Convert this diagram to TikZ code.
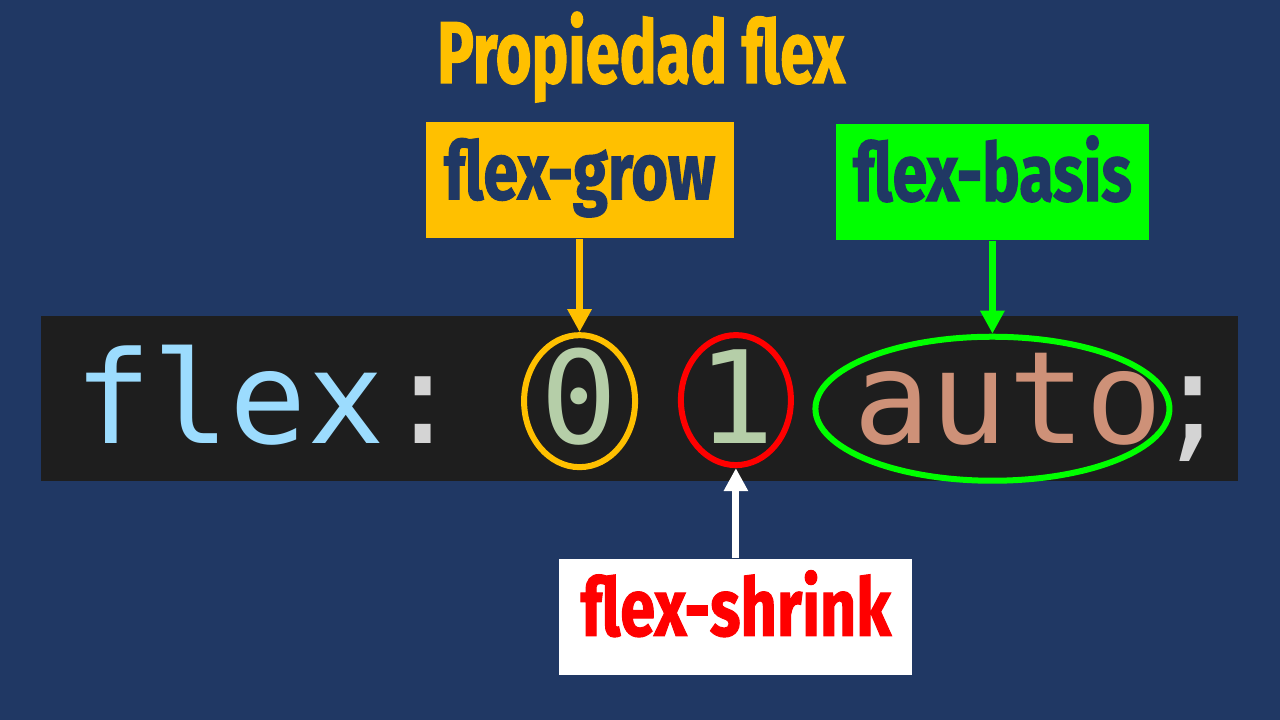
\documentclass[tikz,border=0pt]{standalone}
\usepackage{fontspec}
\usepackage{tikz}
\usetikzlibrary{shapes, arrows.meta, positioning}
\newfontfamily\headfont[FakeStretch=0.70, FakeBold=1.2]{Fira Sans}
\newfontfamily\tagfont[FakeStretch=0.78, FakeBold=1.2]{Fira Sans}
\newfontfamily\codefont{DejaVu Sans Mono}
\definecolor{navy}{HTML}{203864}
\definecolor{growcol}{HTML}{FFC000}
\definecolor{basiscol}{HTML}{00FF00}
\definecolor{shrinkcol}{HTML}{FF0000}
\definecolor{codebg}{HTML}{1E1E1E}
\definecolor{keycol}{HTML}{9CDCFE}
\definecolor{numcol}{HTML}{B5CEA8}
\definecolor{strcol}{HTML}{CE9178}
\definecolor{punctcol}{HTML}{D4D4D4}
\tikzstyle{tagbox} = [rectangle, minimum width=3.08cm, minimum height=1.16cm, text centered, text height=0.58cm, text depth=0.2cm, font=\tagfont\bfseries\fontsize{23}{23}\selectfont, text=navy]
\tikzstyle{code} = [inner sep=0pt, font=\codefont\fontsize{36.6}{36.6}\selectfont]
\tikzstyle{ring} = [ellipse, line width=0.06cm]
\tikzstyle{pointer} = [-{Triangle[length=0.23cm, width=0.23cm]}, line width=0.07cm]

\begin{document}
\begin{tikzpicture}[node distance=0.775cm]
\fill[navy] (0,0) rectangle (12.8,7.2);
\node (title) [anchor=base, text=growcol, font=\headfont\bfseries\fontsize{25}{25}\selectfont] at (6.41,6.37) {Propiedad flex};
% code line
\fill[codebg] (0.41,2.39) rectangle (12.38,4.04);
\node (key) [code, anchor=base west, text=keycol] at (0.74,2.76) {flex\textcolor{punctcol}{:}};
\node (grow) [code, base right=of key, text=numcol] {0};
\node (shrink) [code, base right=of grow, text=numcol] {1};
\node (basis) [code, base right=of shrink, text=strcol] {auto};
\node (semi) [code, anchor=base west, text=punctcol, xshift=-0.1cm] at (basis.base east) {;};
% rings
\node (ringgrow) [ring, draw=growcol, minimum width=1.11cm, minimum height=1.32cm, yshift=-0.04cm] at (grow) {};
\node (ringshrink) [ring, draw=shrinkcol, minimum width=1.10cm, minimum height=1.30cm, yshift=-0.03cm] at (shrink) {};
\node (ringbasis) [ring, draw=basiscol, minimum width=3.54cm, minimum height=1.44cm, xshift=-0.16cm, yshift=-0.09cm] at (basis) {};
% labels
\node (growbox) [tagbox, fill=growcol, above=0.93cm of ringgrow] {flex-grow};
\node (basisbox) [tagbox, fill=basiscol, minimum width=3.13cm, above=0.93cm of ringbasis] {flex-basis};
\node (shrinkbox) [tagbox, fill=white, text=shrinkcol, minimum width=3.53cm, below=0.9cm of ringshrink] {flex-shrink};
\draw [pointer, growcol] (growbox) -- (ringgrow);
\draw [pointer, basiscol] (basisbox) -- (ringbasis);
\draw [pointer, white] (shrinkbox) -- (ringshrink);
\end{tikzpicture}
\end{document}
